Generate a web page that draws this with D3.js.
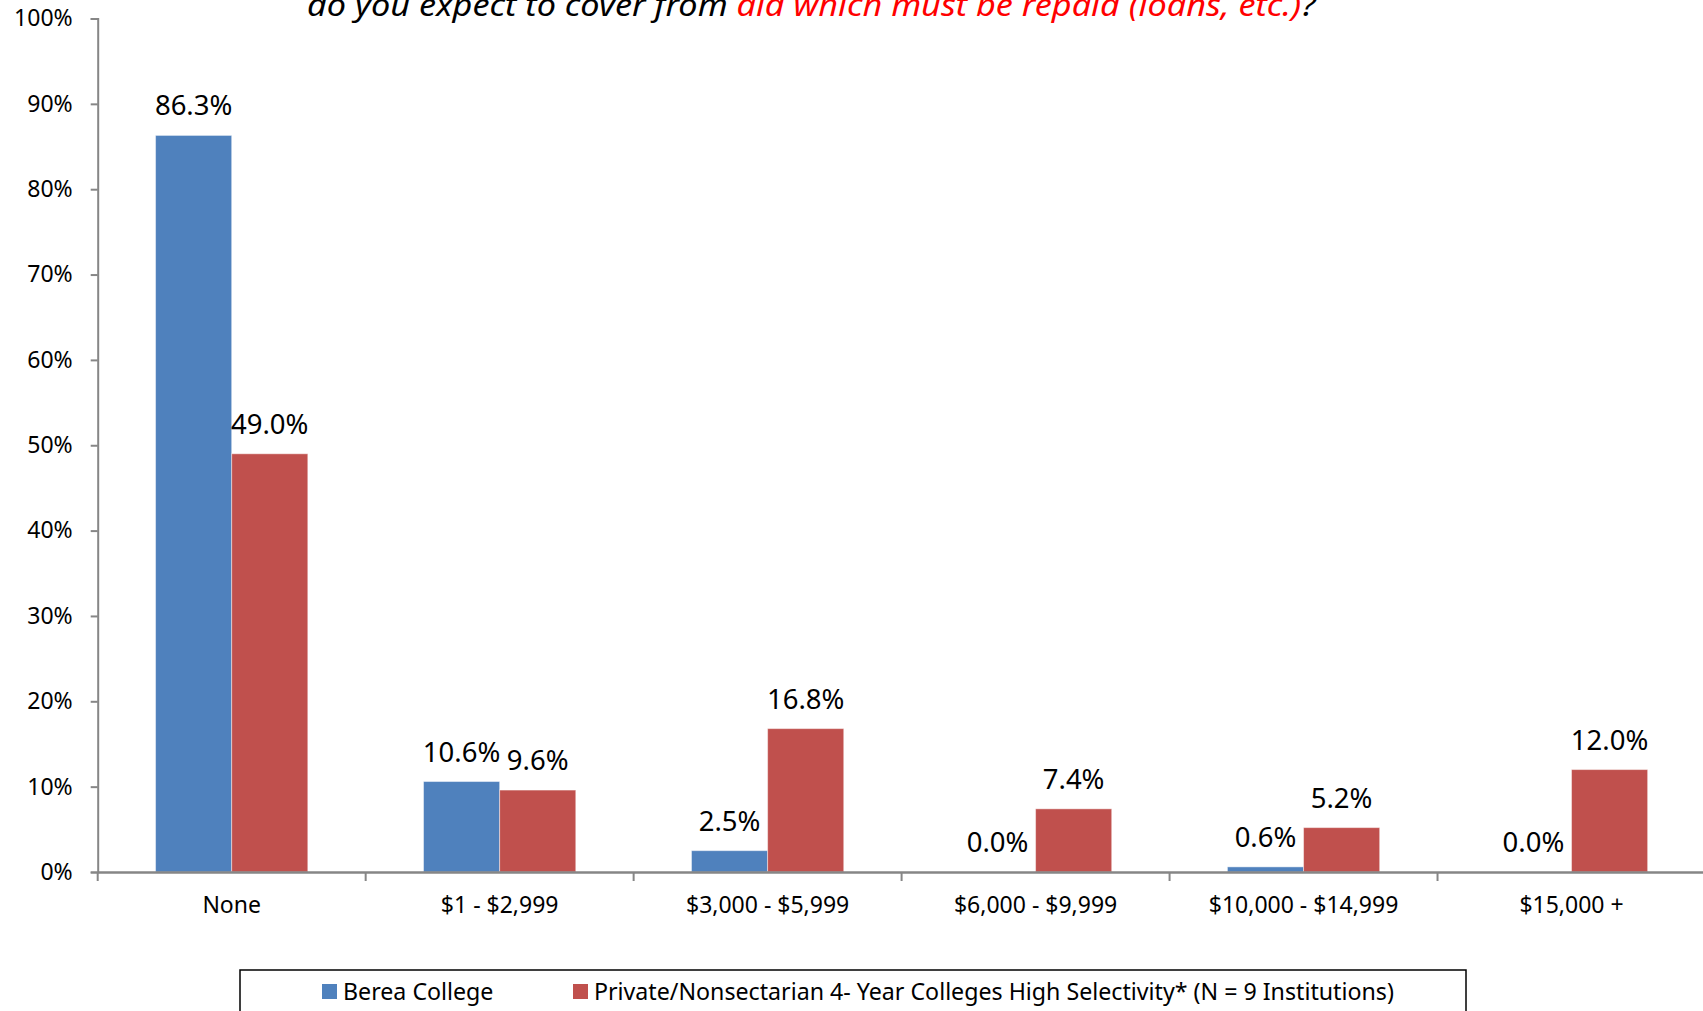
<!DOCTYPE html>
<html>
<head>
<meta charset="utf-8">
<script src="https://cdn.jsdelivr.net/npm/d3@7"></script>
<style>
  html, body { margin: 0; padding: 0; background: #fff; overflow: hidden; }
  svg { display: block; font-family: "Noto Sans", "Open Sans", sans-serif; }
</style>
</head>
<body>
<svg id="chart" width="1703" height="1011"></svg>
<script>
const categories = ["None", "$1 - $2,999", "$3,000 - $5,999", "$6,000 - $9,999", "$10,000 - $14,999", "$15,000 +"];
const seriesNames = ["Berea College", "Private/Nonsectarian 4- Year Colleges High Selectivity* (N = 9 Institutions)"];
const bereaValues = [0.863, 0.106, 0.025, 0.000, 0.006, 0.000];
const privateValues = [0.490, 0.096, 0.168, 0.074, 0.052, 0.120];
const yTicks = [0, 0.1, 0.2, 0.3, 0.4, 0.5, 0.6, 0.7, 0.8, 0.9, 1.0];
const colors = ["#4F81BD", "#C0504D"];

(function () {
const svg = d3.select("#chart");
const mLeft = 97.7, mRight = 1705.5, mTop = 18.5, mBottom = 872;

const x = d3.scaleBand().domain(categories).range([mLeft, mRight]).paddingInner(0).paddingOuter(0);
const xs = d3.scaleBand().domain([0, 1]).range([0, x.bandwidth()]).paddingInner(0).paddingOuter(0.76);
const y = d3.scaleLinear().domain([0, 1]).range([mBottom, mTop]);

// Title (second line, partially cut at top as in the reference)
const title = svg.append("text")
  .attr("x", 307).attr("y", 15.5)
  .attr("font-size", 31).attr("font-style", "italic").attr("fill", "#000");
title.append("tspan").text("do you expect to cover from ");
title.append("tspan").attr("fill", "#FF0000").text("aid which must be repaid (loans, etc.)");
title.append("tspan").text("?");
const tw = title.node().getComputedTextLength();
const targetW = 1009;
title.attr("transform", `translate(307,0) scale(${targetW / tw},1) translate(-307,0)`);

// Bars
const data = categories.map((c, i) => ({ c, vals: [bereaValues[i], privateValues[i]] }));
const groups = svg.append("g").selectAll("g").data(data).join("g")
  .attr("transform", d => `translate(${x(d.c)},0)`);

groups.selectAll("rect").data(d => d.vals.map((v, k) => ({ v, k }))).join("rect")
  .attr("x", d => xs(d.k))
  .attr("width", xs.bandwidth())
  .attr("y", d => y(d.v))
  .attr("height", d => mBottom - y(d.v))
  .attr("fill", d => colors[d.k])
  .attr("stroke", "rgba(255,255,255,0.45)")
  .attr("stroke-width", 1);

groups.selectAll("text.lbl").data(d => d.vals.map((v, k) => ({ v, k }))).join("text")
  .attr("class", "lbl")
  .attr("x", d => xs(d.k) + xs.bandwidth() / 2)
  .attr("y", d => y(d.v) - 20)
  .attr("text-anchor", "middle")
  .attr("font-size", 27.5)
  .attr("fill", "#000")
  .text(d => (d.v * 100).toFixed(1) + "%");

// Y axis
const yAxis = d3.axisLeft(y).tickValues(yTicks).tickFormat(d3.format(".0%")).tickSize(7).tickPadding(18);
const yg = svg.append("g").attr("transform", `translate(${mLeft},0)`).call(yAxis);
yg.select(".domain").attr("stroke", "#868686").attr("stroke-width", 2);
yg.selectAll(".tick line").attr("stroke", "#868686").attr("stroke-width", 2);
yg.selectAll(".tick text").attr("font-size", 23).attr("fill", "#000").attr("font-family", "Noto Sans, sans-serif");

// X axis
const xAxis = d3.axisBottom(x).tickSize(0).tickPadding(0);
const xg = svg.append("g").attr("transform", `translate(0,${mBottom})`).call(xAxis);
xg.select(".domain").attr("stroke", "#868686").attr("stroke-width", 2.5);
xg.selectAll(".tick text").attr("font-size", 23).attr("fill", "#000").attr("y", 41).attr("dy", 0)
  .attr("font-family", "Noto Sans, sans-serif");
// category boundary ticks
xg.append("g").selectAll("line").data(categories).join("line")
  .attr("x1", d => x(d)).attr("x2", d => x(d))
  .attr("y1", 0).attr("y2", 9)
  .attr("stroke", "#868686").attr("stroke-width", 2);

// Legend
const lg = svg.append("g");
lg.append("rect").attr("x", 240).attr("y", 970).attr("width", 1226).attr("height", 80)
  .attr("fill", "#fff").attr("stroke", "#000").attr("stroke-width", 1.5);
const legendX = [322, 573];
seriesNames.forEach((n, k) => {
  lg.append("rect").attr("x", legendX[k]).attr("y", 984).attr("width", 15).attr("height", 15).attr("fill", colors[k]);
  lg.append("text").attr("x", legendX[k] + 21).attr("y", 999.5).attr("font-size", 23.2).attr("fill", "#000").text(n);
});
})();
</script>
</body>
</html>
